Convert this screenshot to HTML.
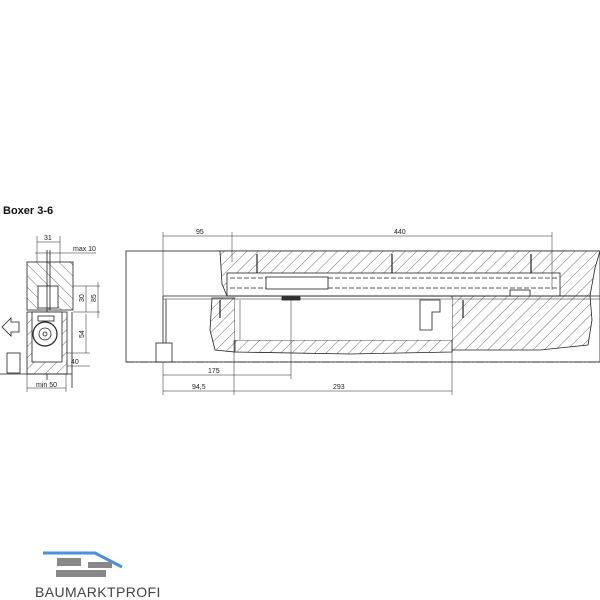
<!DOCTYPE html>
<html><head><meta charset="utf-8"><style>
html,body{margin:0;padding:0;background:#fff;width:600px;height:600px;overflow:hidden}
svg text{font-family:"Liberation Sans",sans-serif}
</style></head><body>
<svg width="600" height="600" viewBox="0 0 600 600" xmlns="http://www.w3.org/2000/svg">
<defs>
<pattern id="h" width="8" height="8" patternUnits="userSpaceOnUse" patternTransform="rotate(45)">
<rect width="8" height="8" fill="#fff"/><line x1="0" y1="0" x2="0" y2="8" stroke="#333" stroke-width="0.7"/></pattern>
<pattern id="h2" width="8" height="8" patternUnits="userSpaceOnUse" patternTransform="rotate(-45)">
<rect width="8" height="8" fill="#fff"/><line x1="0" y1="0" x2="0" y2="8" stroke="#333" stroke-width="0.7"/></pattern>
</defs>
<g fill="none" stroke="#222" stroke-width="0.8">
<!-- LEFT VIEW -->
<text x="3" y="214" font-size="11" font-weight="bold" fill="#111" stroke="none">Boxer 3-6</text>
<rect x="27" y="262" width="46" height="48" fill="url(#h2)"/>
<rect x="38" y="286" width="20" height="22" fill="#fff"/>
<line x1="47" y1="250" x2="47" y2="380"/>
<line x1="50" y1="250" x2="50" y2="310"/>
<rect x="27" y="312" width="40" height="62" fill="url(#h)"/>
<rect x="32" y="312" width="30" height="50" fill="#fff"/>
<circle cx="45" cy="334" r="12" fill="#fff" stroke-width="1.2"/>
<circle cx="45" cy="334" r="6"/><circle cx="45" cy="334" r="2"/>
<rect x="38" y="316" width="16" height="5" fill="#fff"/>
<path d="M2 327 L11 318 L11 322 L19 322 L19 332 L11 332 L11 336 Z"/>
<rect x="7" y="353" width="13" height="20"/>
<line x1="0" y1="374" x2="72" y2="374"/>
<line x1="72" y1="312" x2="72" y2="388"/>
<!-- dims left -->
<line x1="37" y1="242" x2="60" y2="242" stroke-width="0.5"/><line x1="37" y1="236" x2="37" y2="262" stroke-width="0.5"/><line x1="60" y1="236" x2="60" y2="262" stroke-width="0.5"/>
<line x1="35" y1="253" x2="96" y2="253" stroke-width="0.5"/>
<line x1="73" y1="286" x2="100" y2="286" stroke-width="0.5"/><line x1="73" y1="312" x2="100" y2="312" stroke-width="0.5"/>
<line x1="86" y1="286" x2="86" y2="312" stroke-width="0.5"/><line x1="98" y1="282" x2="98" y2="318" stroke-width="0.5"/>
<line x1="86" y1="314" x2="86" y2="353" stroke-width="0.5"/><line x1="67" y1="353" x2="90" y2="353" stroke-width="0.5"/>
<line x1="67" y1="366" x2="90" y2="366" stroke-width="0.5"/>
<line x1="27" y1="388" x2="66" y2="388" stroke-width="0.5"/><line x1="27" y1="374" x2="27" y2="392" stroke-width="0.5"/><line x1="66" y1="374" x2="66" y2="392" stroke-width="0.5"/>
<g stroke="none" fill="#222" font-size="7">
<text x="44" y="240">31</text><text x="73" y="251">max 10</text>
<text x="84" y="302" transform="rotate(-90 84 302)">30</text><text x="96" y="302" transform="rotate(-90 96 302)">85</text>
<text x="84" y="338" transform="rotate(-90 84 338)">54</text>
<text x="71" y="364">40</text><text x="36" y="387">min 50</text>
</g>
<!-- MAIN VIEW -->
<rect x="126" y="251" width="474" height="111" stroke-width="0.8"/>
<path d="M220 251 L600 251 L595 268 L590 296 L227 296 L222 284 Z" fill="url(#h)"/>
<path d="M452 296 L590 296 L592 320 L588 345 L540 350 L452 350 Z" fill="url(#h)"/>
<path d="M212 298 L235 298 L235 352 L215 350 L210 330 Z" fill="url(#h)"/>
<path d="M235 340 L452 340 L452 352 L350 354 L235 352 Z" fill="url(#h)"/>
<rect x="235" y="298" width="217" height="42" fill="#fff" stroke="none"/>
<rect x="227" y="273" width="333" height="23" fill="#fff"/>
<line x1="230" y1="278" x2="557" y2="278" stroke-dasharray="5,2"/>
<line x1="230" y1="288" x2="557" y2="288" stroke-dasharray="5,2"/>
<rect x="266" y="277" width="62" height="12" fill="#fff"/>
<line x1="163" y1="296" x2="600" y2="296"/><line x1="163" y1="299" x2="600" y2="299" stroke-width="0.5"/>
<line x1="163" y1="296" x2="163" y2="343"/><line x1="166" y1="299" x2="166" y2="343"/>
<rect x="156" y="343" width="16" height="19" fill="#fff"/>
<rect x="282" y="297" width="18" height="3" fill="#333"/>
<rect x="510" y="290" width="20" height="6" fill="#fff"/>
<path d="M420 300 L440 300 L440 312 L432 312 L432 330 L420 330 Z" fill="#fff"/>
<g stroke-width="1.2"><line x1="257" y1="254" x2="257" y2="273"/><line x1="392" y1="254" x2="392" y2="273"/><line x1="531" y1="254" x2="531" y2="273"/><line x1="220" y1="300" x2="220" y2="318"/><line x1="463" y1="300" x2="463" y2="318"/></g>
<line x1="240" y1="300" x2="240" y2="340" stroke-width="0.5"/>
<line x1="126" y1="362" x2="600" y2="362" stroke-dasharray="8,2,2,2"/>
<!-- dims main -->
<g stroke-width="0.5">
<line x1="163" y1="236" x2="552" y2="236"/><line x1="163" y1="232" x2="163" y2="296"/><line x1="232" y1="232" x2="232" y2="262"/><line x1="552" y1="232" x2="552" y2="290"/>
<line x1="163" y1="375" x2="291" y2="375"/><line x1="291" y1="299" x2="291" y2="379"/>
<line x1="163" y1="391" x2="452" y2="391"/><line x1="163" y1="362" x2="163" y2="395"/><line x1="234" y1="340" x2="234" y2="395"/><line x1="452" y1="350" x2="452" y2="395"/>
</g>
<g stroke="none" fill="#222" font-size="7">
<text x="196" y="234">95</text><text x="394" y="234">440</text>
<text x="208" y="373">175</text><text x="192" y="389">94,5</text><text x="333" y="389">293</text>
</g>
</g>
<!-- logo -->
<polyline points="43,553 95,553 122,567" fill="none" stroke="#4a8fe0" stroke-width="3"/>
<rect x="57" y="558" width="24" height="8" fill="#888"/><rect x="88" y="562" width="24" height="6" fill="#888"/>
<rect x="56" y="570" width="50" height="7" fill="#888"/>
<text x="35" y="597" font-size="14" fill="#444" letter-spacing="0.4">BAUMARKTPROFI</text>
</svg>
</body></html>
